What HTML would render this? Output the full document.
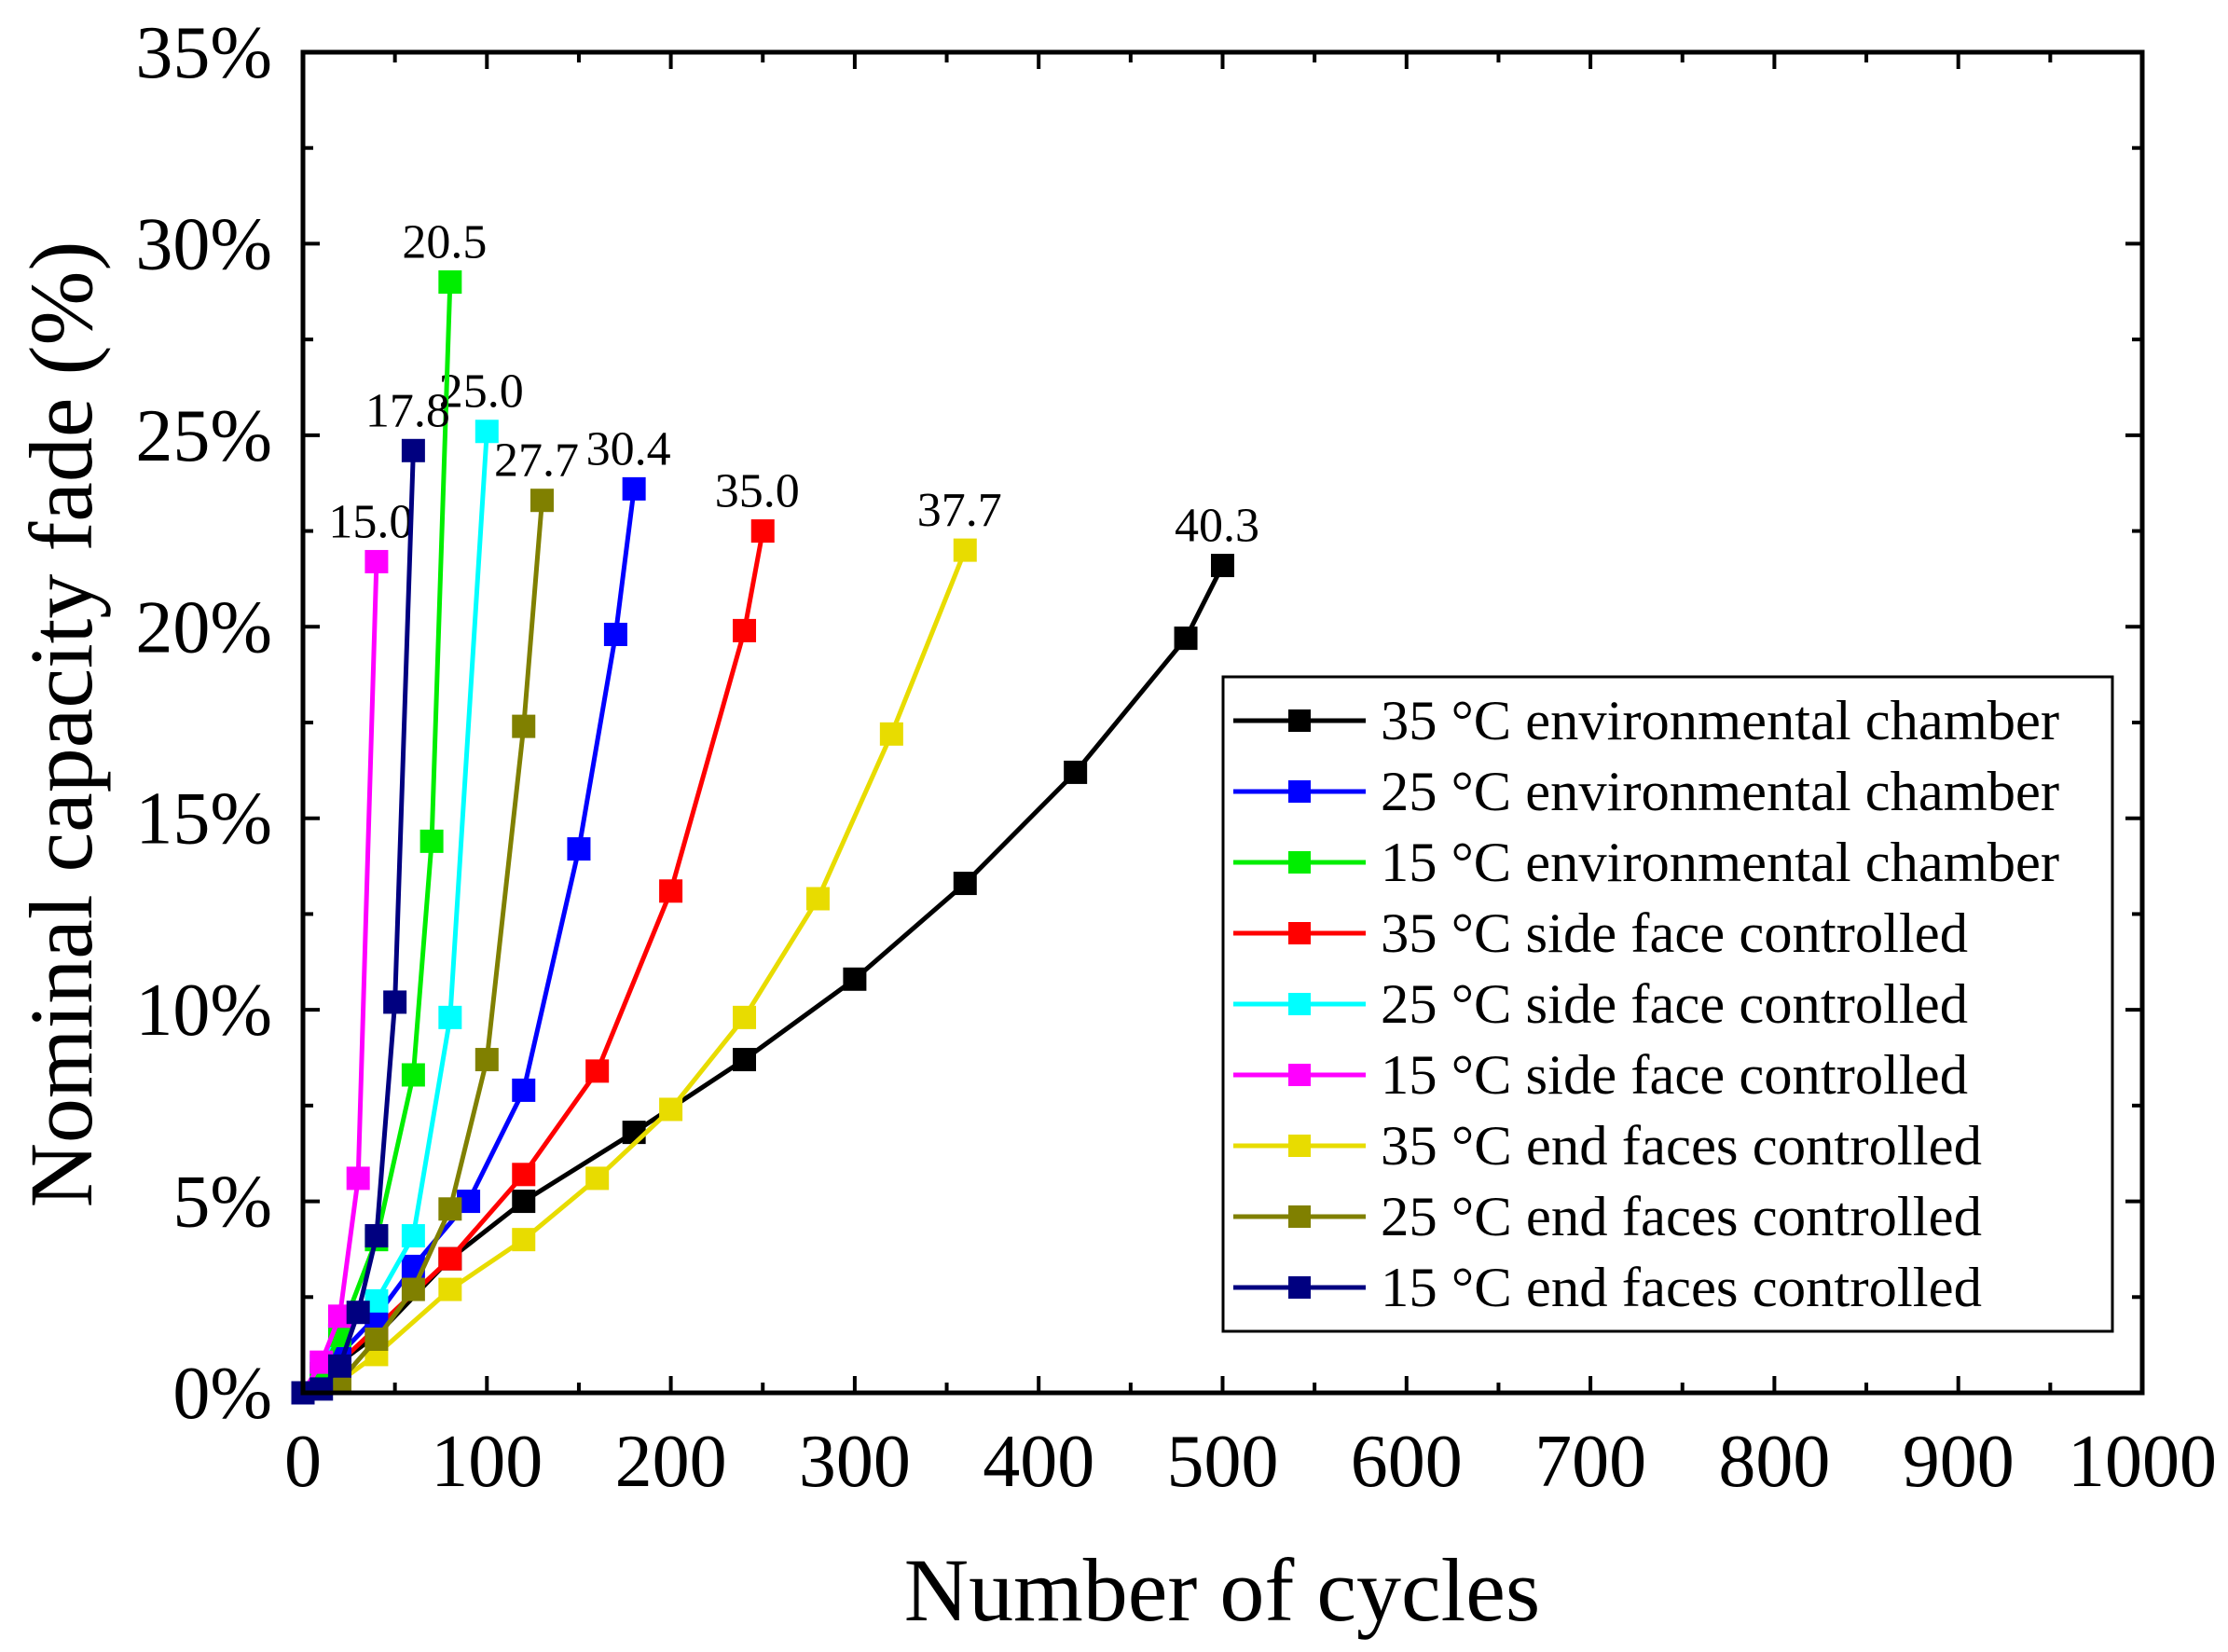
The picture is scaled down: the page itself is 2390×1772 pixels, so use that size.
<!DOCTYPE html>
<html><head><meta charset="utf-8"><style>
html,body{margin:0;padding:0;background:#fff;}
svg{display:block;font-family:"Liberation Serif",serif;}
</style></head><body>
<svg id="chart" width="2390" height="1772" viewBox="0 0 2390 1772" xmlns="http://www.w3.org/2000/svg">
<g id="plot"></g>
<g id="axes"></g>
<g id="legend"></g>
<text x="1311" y="1738" font-size="96" text-anchor="middle">Number of cycles</text>
<text transform="translate(98,777) rotate(-90)" font-size="96" text-anchor="middle">Nominal capacity fade (%)</text>
</svg>
<script>
const seriesNames = ["35 °C environmental chamber","25 °C environmental chamber","15 °C environmental chamber","35 °C side face controlled","25 °C side face controlled","15 °C side face controlled","35 °C end faces controlled","25 °C end faces controlled","15 °C end faces controlled"];
const seriesColors = ["#000000","#0000ff","#00ee00","#ff0000","#00ffff","#ff00ff","#e8dc00","#808000","#000080"];
const xBlack = [0,20,40,80,120,180,240,300,360,420,480,500];
const yBlack = [0,0.8,1.5,3.5,5.0,6.8,8.7,10.8,13.3,16.2,19.7,21.6];
const xBlue = [0,10,20,40,60,90,120,150,170,180];
const yBlue = [0,0.4,1.0,2.0,3.3,5.0,7.9,14.2,19.8,23.6];
const xGreen = [0,10,20,40,60,70,80];
const yGreen = [0,0.5,1.5,4.0,8.3,14.4,29.0];
const xRed = [0,20,40,80,120,160,200,240,250];
const yRed = [0,0.8,1.7,3.5,5.7,8.4,13.1,19.9,22.5];
const xCyan = [0,10,20,40,60,80,100];
const yCyan = [0,0.7,1.5,2.4,4.1,9.8,25.1];
const xMagenta = [0,10,20,30,40];
const yMagenta = [0,0.8,2.0,5.6,21.7];
const xYellow = [0,20,40,80,120,160,200,240,280,320,360];
const yYellow = [0,0.3,1.0,2.7,4.0,5.6,7.4,9.8,12.9,17.2,22.0];
const xOlive = [0,20,40,60,80,100,120,130];
const yOlive = [0,0.3,1.4,2.7,4.8,8.7,17.4,23.3];
const xNavy = [0,10,20,30,40,50,60];
const yNavy = [0,0.1,0.7,2.1,4.1,10.2,24.6];
const endLabels = ["40.3","30.4","20.5","35.0","25.0","15.0","37.7","27.7","17.8"];
const xTicks = [0,100,200,300,400,500,600,700,800,900,1000];
const yTicks = [0,5,10,15,20,25,30,35];

const NS="http://www.w3.org/2000/svg";
const L=325,R=2298,T=56,B=1494;
const sx=v=>L+(v/1000)*(R-L);
const sy=v=>B-(v/35)*(B-T);
function mk(tag,attrs,parent){const e=document.createElementNS(NS,tag);for(const k in attrs)e.setAttribute(k,attrs[k]);parent.appendChild(e);return e;}
const plot=document.getElementById('plot'),axes=document.getElementById('axes'),legend=document.getElementById('legend');
const xs=[xBlack,xBlue,xGreen,xRed,xCyan,xMagenta,xYellow,xOlive,xNavy];
const ys=[yBlack,yBlue,yGreen,yRed,yCyan,yMagenta,yYellow,yOlive,yNavy];
const drawOrder=[0,6,3,1,7,4,2,5,8];
drawOrder.forEach(i=>{
  const g=mk('g',{},plot);
  
  
  const pts=xs[i].map((x,j)=>sx(x)+','+sy(ys[i][j])).join(' ');
  const pl=mk('polyline',{points:pts,fill:'none',stroke:seriesColors[i],'stroke-width':5},g);
  
  
  xs[i].forEach((x,j)=>{
    const r=mk('rect',{x:sx(x)-12.5,y:sy(ys[i][j])-12.5,width:25,height:25,fill:seriesColors[i]},g);
    
    
  });
  const n=xs[i].length-1;
  const t=mk('text',{x:sx(xs[i][n])-6,y:sy(ys[i][n])-26,'font-size':52,'text-anchor':'middle'},g);
  t.textContent=endLabels[i];
  
  
});
const fr=mk('rect',{x:L,y:T,width:R-L,height:B-T,fill:'none',stroke:'#000','stroke-width':5},axes);


xTicks.forEach((v,i)=>{
  const x=sx(v);
  mk('line',{x1:x,y1:B,x2:x,y2:B-18,stroke:'#000','stroke-width':4},axes);
  mk('line',{x1:x,y1:T,x2:x,y2:T+18,stroke:'#000','stroke-width':4},axes);
  if(i<xTicks.length-1){const xm=sx(v+50);
    mk('line',{x1:xm,y1:B,x2:xm,y2:B-11,stroke:'#000','stroke-width':4},axes);
    mk('line',{x1:xm,y1:T,x2:xm,y2:T+11,stroke:'#000','stroke-width':4},axes);}
  const t=mk('text',{x:x,y:1594,'font-size':80,'text-anchor':'middle'},axes);
  t.textContent=v;
  
  
});
yTicks.forEach((v,i)=>{
  const y=sy(v);
  mk('line',{x1:L,y1:y,x2:L+18,y2:y,stroke:'#000','stroke-width':4},axes);
  mk('line',{x1:R,y1:y,x2:R-18,y2:y,stroke:'#000','stroke-width':4},axes);
  if(i<yTicks.length-1){const ym=sy(v+2.5);
    mk('line',{x1:L,y1:ym,x2:L+11,y2:ym,stroke:'#000','stroke-width':4},axes);
    mk('line',{x1:R,y1:ym,x2:R-11,y2:ym,stroke:'#000','stroke-width':4},axes);}
  const t=mk('text',{x:292,y:y+27,'font-size':80,'text-anchor':'end'},axes);
  t.textContent=v+'%';
  
  
});
const lb=mk('rect',{x:1312,y:726,width:954,height:702,fill:'#fff',stroke:'#000','stroke-width':3},legend);


const widths=[728,728,728,630,630,630,645,645,645];
seriesNames.forEach((nm,i)=>{
  const y=773+i*76;
  const g=mk('g',{},legend);
  
  
  mk('line',{x1:1323,y1:y,x2:1465,y2:y,stroke:seriesColors[i],'stroke-width':5},g);
  mk('rect',{x:1382,y:y-12,width:24,height:24,fill:seriesColors[i]},g);
  const t=mk('text',{x:1481,y:y+20,'font-size':60,textLength:widths[i],lengthAdjust:'spacingAndGlyphs'},g);
  t.textContent=nm;
});
</script>
</body></html>
